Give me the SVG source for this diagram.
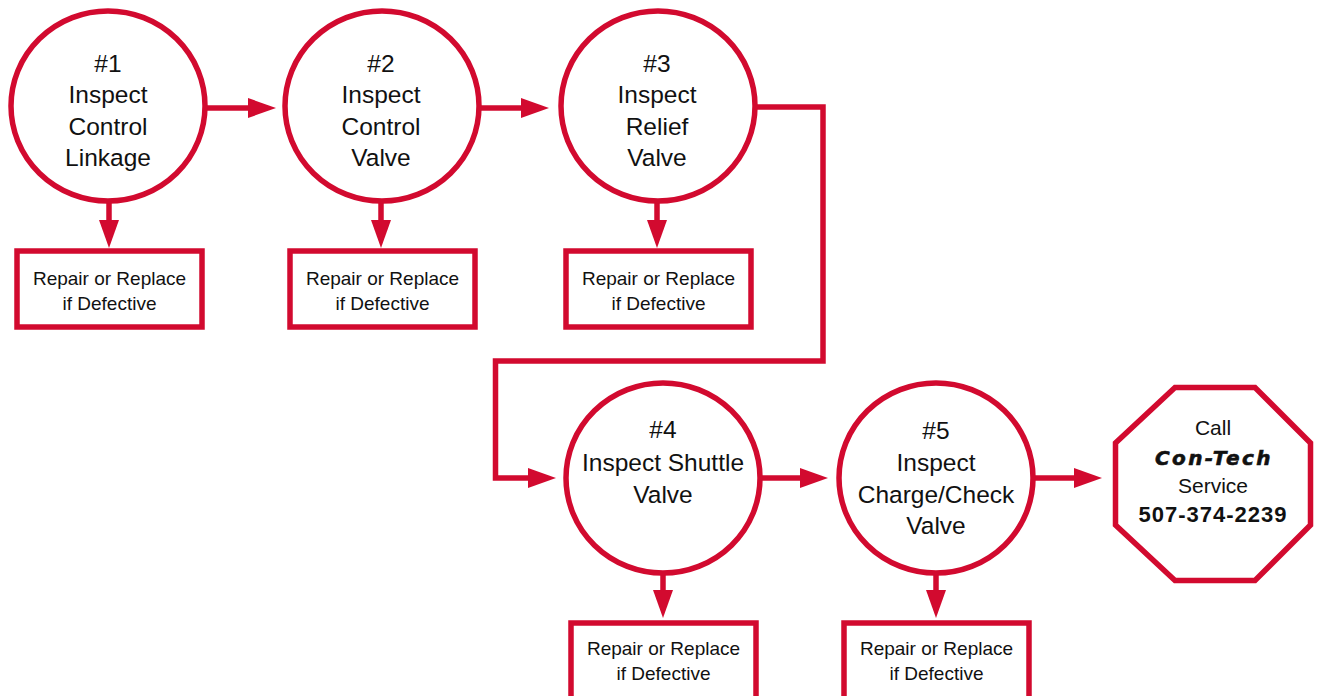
<svg xmlns="http://www.w3.org/2000/svg" width="1317" height="696" viewBox="0 0 1317 696">
<style>
.n{fill:#fff;stroke:#d20a2f;stroke-width:5.5}
.c{fill:none;stroke:#d20a2f;stroke-width:5.5;stroke-linejoin:miter}
.t{font-family:"Liberation Sans",Arial,sans-serif;font-size:24.5px;fill:#111;text-anchor:middle}
.b{font-family:"Liberation Sans",Arial,sans-serif;font-size:19px;fill:#111;text-anchor:middle}
.o{font-family:"Liberation Sans",Arial,sans-serif;font-size:21px;fill:#111;text-anchor:middle}
</style>
<defs>
<marker id="ah" markerUnits="userSpaceOnUse" markerWidth="28" markerHeight="20" refX="0" refY="10" orient="auto">
<path d="M0,0 L28,10 L0,20 z" fill="#d20a2f"/>
</marker>
</defs>
<rect width="1317" height="696" fill="#fff"/>
<g id="connectors">
<path class="c" d="M205,108 H248" marker-end="url(#ah)"/>
<path class="c" d="M479,108 H521" marker-end="url(#ah)"/>
<path class="c" d="M755,107 H823 V361 H495.5 V478 H528" marker-end="url(#ah)"/>
<path class="c" d="M760,478 H800" marker-end="url(#ah)"/>
<path class="c" d="M1033,478 H1074" marker-end="url(#ah)"/>
<path class="c" d="M109,200 V220" marker-end="url(#ah)"/>
<path class="c" d="M381,200 V220" marker-end="url(#ah)"/>
<path class="c" d="M657,200 V220" marker-end="url(#ah)"/>
<path class="c" d="M663,572 V590" marker-end="url(#ah)"/>
<path class="c" d="M936,572 V590" marker-end="url(#ah)"/>
</g>
<g id="step1">
<ellipse class="n" cx="108" cy="106" rx="97" ry="95"/>
<text class="t" x="108" y="72">#1</text>
<text class="t" x="108" y="103">Inspect</text>
<text class="t" x="108" y="135">Control</text>
<text class="t" x="108" y="166">Linkage</text>
</g>
<g id="step2">
<ellipse class="n" cx="382" cy="106" rx="97" ry="95"/>
<text class="t" x="381" y="72">#2</text>
<text class="t" x="381" y="103">Inspect</text>
<text class="t" x="381" y="135">Control</text>
<text class="t" x="381" y="166">Valve</text>
</g>
<g id="step3">
<ellipse class="n" cx="658" cy="106" rx="97" ry="95"/>
<text class="t" x="657" y="72">#3</text>
<text class="t" x="657" y="103">Inspect</text>
<text class="t" x="657" y="135">Relief</text>
<text class="t" x="657" y="166">Valve</text>
</g>
<g id="step4">
<ellipse class="n" cx="663" cy="478" rx="97" ry="95"/>
<text class="t" x="663" y="438">#4</text>
<text class="t" x="663" y="471">Inspect Shuttle</text>
<text class="t" x="663" y="503">Valve</text>
</g>
<g id="step5">
<ellipse class="n" cx="936" cy="478" rx="97" ry="95"/>
<text class="t" x="936" y="439">#5</text>
<text class="t" x="936" y="471">Inspect</text>
<text class="t" x="936" y="503">Charge/Check</text>
<text class="t" x="936" y="534">Valve</text>
</g>
<g id="repair1">
<rect class="n" x="17" y="251" width="185" height="76"/>
<text class="b" x="109.5" y="285">Repair or Replace</text>
<text class="b" x="109.5" y="310">if Defective</text>
</g>
<g id="repair2">
<rect class="n" x="290" y="251" width="185" height="76"/>
<text class="b" x="382.5" y="285">Repair or Replace</text>
<text class="b" x="382.5" y="310">if Defective</text>
</g>
<g id="repair3">
<rect class="n" x="566" y="251" width="185" height="76"/>
<text class="b" x="658.5" y="285">Repair or Replace</text>
<text class="b" x="658.5" y="310">if Defective</text>
</g>
<g id="repair4">
<rect class="n" x="571" y="623" width="185" height="100"/>
<text class="b" x="663.5" y="655">Repair or Replace</text>
<text class="b" x="663.5" y="680">if Defective</text>
</g>
<g id="repair5">
<rect class="n" x="844" y="623" width="185" height="100"/>
<text class="b" x="936.5" y="655">Repair or Replace</text>
<text class="b" x="936.5" y="680">if Defective</text>
</g>
<g id="call">
<polygon class="n" points="1175,387.5 1255,387.5 1310.5,443 1310.5,525 1255,580.5 1175,580.5 1115.5,525 1115.5,443"/>
<text class="o" x="1213" y="435">Call</text>
<text x="1214" y="465" style="font-family:'DejaVu Sans',sans-serif;font-size:20px;font-weight:bold;font-style:oblique;letter-spacing:2.4px;fill:#111;stroke:#111;stroke-width:0.6px;text-anchor:middle">Con-Tech</text>
<text class="o" x="1213" y="493">Service</text>
<text x="1213" y="522" style="font-family:'Liberation Sans',Arial,sans-serif;font-size:22px;font-weight:bold;letter-spacing:1px;fill:#111;text-anchor:middle">507-374-2239</text>
</g>
</svg>
